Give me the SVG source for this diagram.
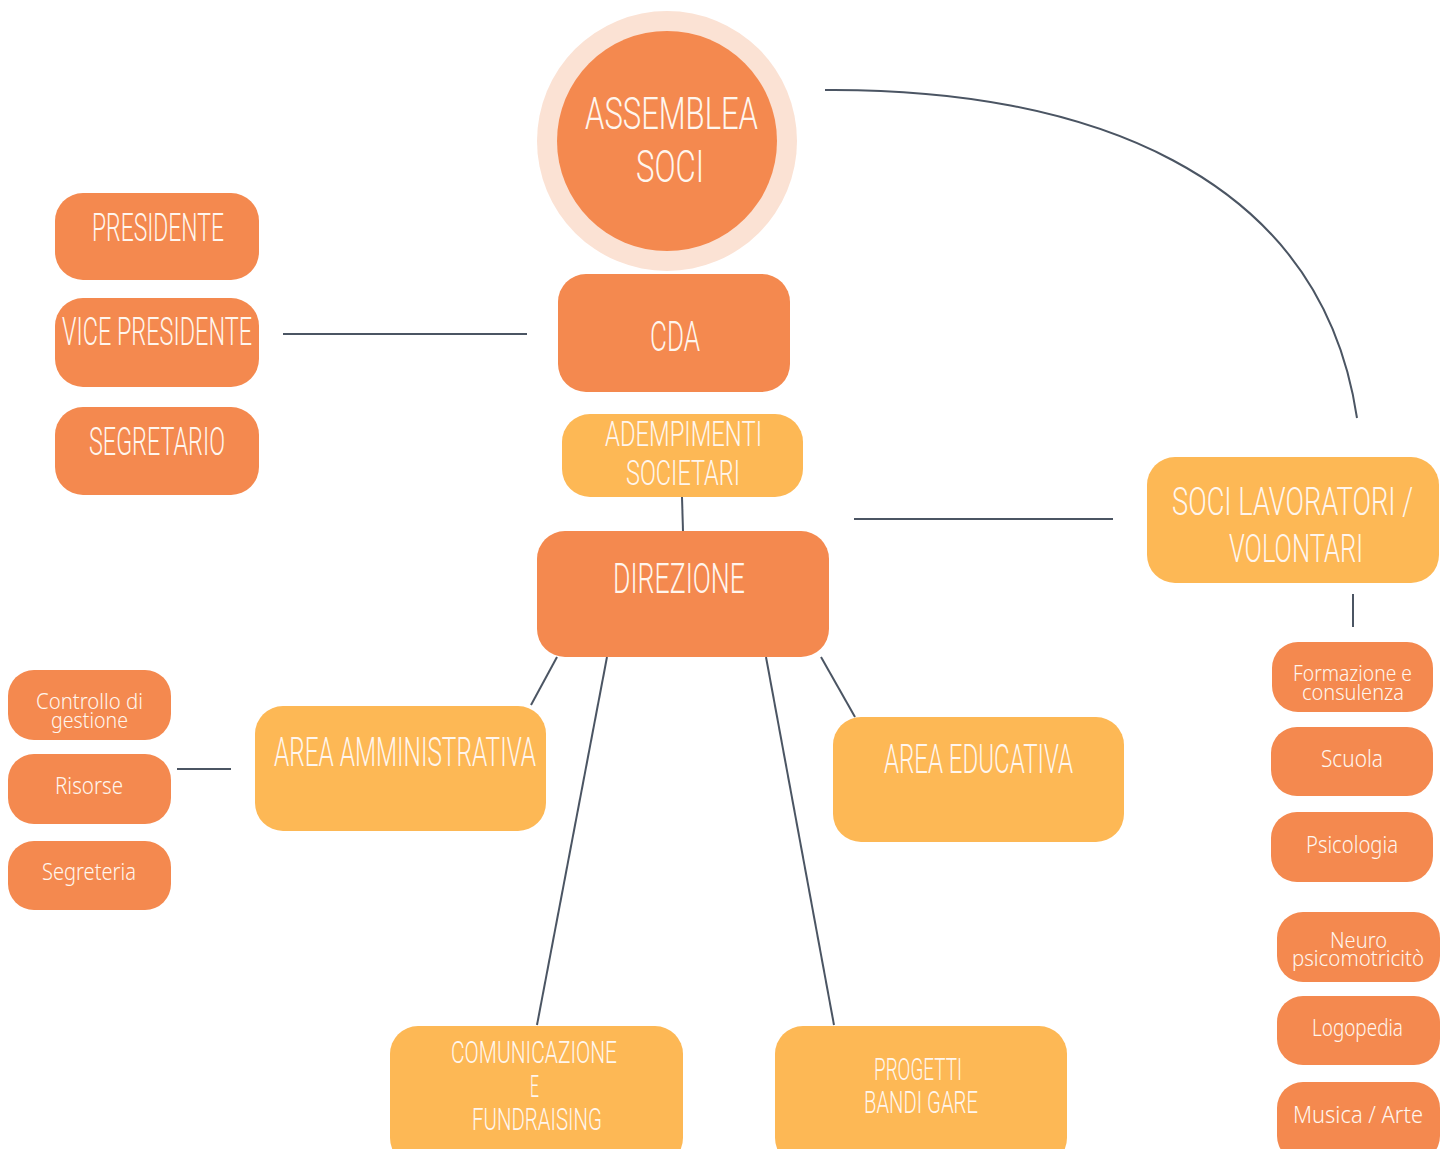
<svg xmlns="http://www.w3.org/2000/svg" width="1450" height="1149" viewBox="0 0 1450 1149">
<style>
.o{fill:#F4894F}
.y{fill:#FDB855}
.t{font-family:Roboto,"Liberation Sans",sans-serif;font-weight:300;fill:#FFF6EE}
.s{font-family:"Noto Sans","Liberation Sans",sans-serif;font-weight:300;fill:#FFF6EE}
.c{stroke:#4B5563;stroke-width:2;fill:none}
</style>
<rect width="1450" height="1149" fill="#FFFFFF"/>
<g id="connectors">
<path class="c" d="M825,90 C1080,88 1320,170 1357,418"/>
<line class="c" x1="283" y1="334" x2="527" y2="334"/>
<line class="c" x1="682" y1="497" x2="683" y2="531"/>
<line class="c" x1="854" y1="519" x2="1113" y2="519"/>
<line class="c" x1="1353" y1="594" x2="1353" y2="627"/>
<line class="c" x1="557" y1="657" x2="531" y2="705"/>
<line class="c" x1="607" y1="657" x2="537" y2="1025"/>
<line class="c" x1="766" y1="657" x2="834" y2="1025"/>
<line class="c" x1="821" y1="657" x2="855" y2="717"/>
<line class="c" x1="177" y1="769" x2="231" y2="769"/>
</g>
<g id="assemblea">
<circle cx="667" cy="141" r="130" fill="#FBE2D4"/>
<circle cx="667" cy="141" r="110" class="o"/>
<text class="t" x="585" y="129" font-size="45" textLength="173" lengthAdjust="spacingAndGlyphs">ASSEMBLEA</text>
<text class="t" x="636" y="182" font-size="45" textLength="68" lengthAdjust="spacingAndGlyphs">SOCI</text>
</g>
<g id="presidente">
<rect class="o" x="55" y="193" width="204" height="87" rx="28"/>
<text class="t" x="92" y="241" font-size="39" textLength="132" lengthAdjust="spacingAndGlyphs">PRESIDENTE</text>
</g>
<g id="vicepresidente">
<rect class="o" x="55" y="298" width="204" height="89" rx="28"/>
<text class="t" x="62" y="345" font-size="39" textLength="190" lengthAdjust="spacingAndGlyphs">VICE PRESIDENTE</text>
</g>
<g id="segretario">
<rect class="o" x="55" y="407" width="204" height="88" rx="28"/>
<text class="t" x="89" y="455" font-size="39" textLength="136" lengthAdjust="spacingAndGlyphs">SEGRETARIO</text>
</g>
<g id="cda">
<rect class="o" x="558" y="274" width="232" height="118" rx="28"/>
<text class="t" x="650" y="351" font-size="42" textLength="50" lengthAdjust="spacingAndGlyphs">CDA</text>
</g>
<g id="adempimenti">
<rect class="y" x="562" y="414" width="241" height="83" rx="28"/>
<text class="t" x="605" y="446" font-size="35" textLength="157" lengthAdjust="spacingAndGlyphs">ADEMPIMENTI</text>
<text class="t" x="626" y="485" font-size="35" textLength="114" lengthAdjust="spacingAndGlyphs">SOCIETARI</text>
</g>
<g id="direzione">
<rect class="o" x="537" y="531" width="292" height="126" rx="28"/>
<text class="t" x="613" y="593" font-size="42" textLength="132" lengthAdjust="spacingAndGlyphs">DIREZIONE</text>
</g>
<g id="soci-lavoratori">
<rect class="y" x="1147" y="457" width="292" height="126" rx="28"/>
<text class="t" x="1172" y="515" font-size="38" textLength="241" lengthAdjust="spacingAndGlyphs">SOCI LAVORATORI /</text>
<text class="t" x="1229" y="562" font-size="38" textLength="134" lengthAdjust="spacingAndGlyphs">VOLONTARI</text>
</g>
<g id="area-amministrativa">
<rect class="y" x="255" y="706" width="291" height="125" rx="28"/>
<text class="t" x="274" y="766" font-size="41" textLength="262" lengthAdjust="spacingAndGlyphs">AREA AMMINISTRATIVA</text>
</g>
<g id="area-educativa">
<rect class="y" x="833" y="717" width="291" height="125" rx="28"/>
<text class="t" x="884" y="773" font-size="41" textLength="189" lengthAdjust="spacingAndGlyphs">AREA EDUCATIVA</text>
</g>
<g id="comunicazione">
<rect class="y" x="390" y="1026" width="293" height="140" rx="28"/>
<text class="t" x="451" y="1063" font-size="31" textLength="166" lengthAdjust="spacingAndGlyphs">COMUNICAZIONE</text>
<text class="t" x="530" y="1097" font-size="31" textLength="9" lengthAdjust="spacingAndGlyphs">E</text>
<text class="t" x="472" y="1130" font-size="31" textLength="130" lengthAdjust="spacingAndGlyphs">FUNDRAISING</text>
</g>
<g id="progetti">
<rect class="y" x="775" y="1026" width="292" height="140" rx="28"/>
<text class="t" x="874" y="1080" font-size="31" textLength="88" lengthAdjust="spacingAndGlyphs">PROGETTI</text>
<text class="t" x="864" y="1113" font-size="31" textLength="114" lengthAdjust="spacingAndGlyphs">BANDI GARE</text>
</g>
<g id="controllo">
<rect class="o" x="8" y="670" width="163" height="70" rx="26"/>
<text class="s" x="36" y="709" font-size="21" textLength="107" lengthAdjust="spacingAndGlyphs">Controllo di</text>
<text class="s" x="51" y="728" font-size="21" textLength="77" lengthAdjust="spacingAndGlyphs">gestione</text>
</g>
<g id="risorse">
<rect class="o" x="8" y="754" width="163" height="70" rx="26"/>
<text class="s" x="55" y="794" font-size="24" textLength="68" lengthAdjust="spacingAndGlyphs">Risorse</text>
</g>
<g id="segreteria">
<rect class="o" x="8" y="841" width="163" height="69" rx="26"/>
<text class="s" x="42" y="880" font-size="24" textLength="94" lengthAdjust="spacingAndGlyphs">Segreteria</text>
</g>
<g id="formazione">
<rect class="o" x="1272" y="642" width="161" height="70" rx="26"/>
<text class="s" x="1293" y="681" font-size="21" textLength="119" lengthAdjust="spacingAndGlyphs">Formazione e</text>
<text class="s" x="1302" y="700" font-size="21" textLength="102" lengthAdjust="spacingAndGlyphs">consulenza</text>
</g>
<g id="scuola">
<rect class="o" x="1271" y="727" width="162" height="69" rx="26"/>
<text class="s" x="1321" y="767" font-size="24" textLength="62" lengthAdjust="spacingAndGlyphs">Scuola</text>
</g>
<g id="psicologia">
<rect class="o" x="1271" y="812" width="162" height="70" rx="26"/>
<text class="s" x="1306" y="853" font-size="24" textLength="92" lengthAdjust="spacingAndGlyphs">Psicologia</text>
</g>
<g id="neuro">
<rect class="o" x="1277" y="912" width="163" height="70" rx="26"/>
<text class="s" x="1330" y="948" font-size="21" textLength="57" lengthAdjust="spacingAndGlyphs">Neuro</text>
<text class="s" x="1292" y="966" font-size="21" textLength="132" lengthAdjust="spacingAndGlyphs">psicomotricitò</text>
</g>
<g id="logopedia">
<rect class="o" x="1277" y="996" width="163" height="69" rx="26"/>
<text class="s" x="1312" y="1036" font-size="24" textLength="91" lengthAdjust="spacingAndGlyphs">Logopedia</text>
</g>
<g id="musica">
<rect class="o" x="1277" y="1082" width="163" height="80" rx="26"/>
<text class="s" x="1293" y="1123" font-size="24" textLength="130" lengthAdjust="spacingAndGlyphs">Musica / Arte</text>
</g>
</svg>
